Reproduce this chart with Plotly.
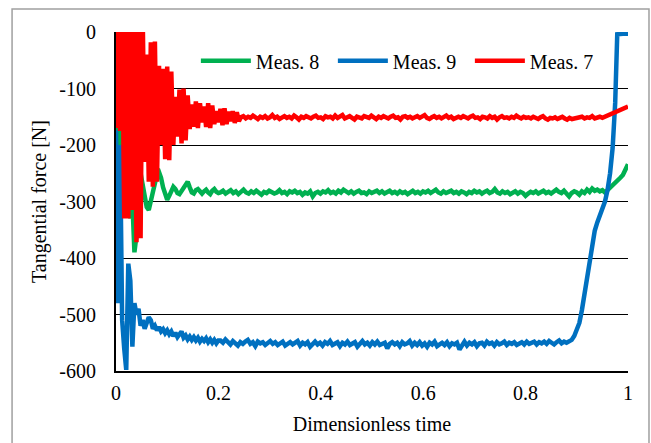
import numpy as np
import plotly.graph_objects as go

# ---------------- data ----------------
series_names = ["Meas. 8", "Meas. 9", "Meas. 7"]

# Meas. 8 (green)
green_start = [-60, -200, -150, -260, -230, -300, -260, -330, -300, -390,
               -360, -260, -250, -270, -295, -310, -315, -300, -280, -262,
               -252, -248, -258, -275, -290, -297, -290, -280, -274, -278,
               -285, -287, -282, -276, -270, -265, -275, -284, -286, -280,
               -278, -283, -286, -282, -279, -284, -287, -281, -278, -283,
               -285]
green_mid = [-284, -281, -286, -283, -280, -285, -282, -287, -283, -279,
             -284, -286, -282, -285, -281, -284, -288, -283, -285, -281,
             -283, -286, -284, -280, -285, -283, -287, -282, -284, -281,
             -285, -283, -288, -284, -286, -282, -291, -285, -283, -286,
             -282, -284, -280, -285, -283, -286, -281, -284, -279, -283,
             -285, -282, -286, -283, -281, -285, -284, -287, -282, -285,
             -283, -281, -285, -282, -286, -284, -281, -285, -283, -286,
             -282, -285, -283, -287, -284, -281, -285, -283, -286, -282,
             -284, -281, -285, -283, -279, -284, -286, -282, -285, -283,
             -281, -285, -283, -286, -282, -284, -287, -283, -285, -281,
             -284, -282, -286, -283, -281, -285, -283, -278, -284, -286,
             -282, -285, -283, -287, -284, -282, -286, -283, -285, -290,
             -286, -283, -285, -282, -286, -284, -281, -285, -283, -286,
             -282, -279, -283, -285, -281, -286, -291, -285, -282, -284]
green_end = [-288, -282, -285, -279, -283, -277, -281, -279, -282, -280,
             -284, -280, -276, -271, -266, -262, -258, -253, -245, -234]

# Meas. 9 (blue)
blue_start = [-174, -480, -200, -510, -560, -598, -410, -440, -557, -480,
              -500, -490, -520, -510, -525, -515, -505, -510, -525, -520,
              -528, -522, -530, -526, -533, -528, -535, -530, -538, -532,
              -540, -535, -530, -541, -537, -544, -539, -545, -540, -546,
              -541, -548, -543, -547, -542, -549, -544, -550, -545, -551,
              -546]
blue_mid = [-546, -550, -544, -549, -553, -547, -551, -555, -549, -552,
            -548, -545, -552, -549, -556, -548, -551, -549, -554, -550,
            -547, -552, -549, -554, -550, -548, -555, -551, -549, -553,
            -551, -547, -555, -550, -553, -549, -557, -551, -548, -553,
            -550, -555, -549, -552, -547, -554, -551, -549, -556, -550,
            -553, -548, -554, -551, -549, -557, -552, -547, -553, -550,
            -555, -549, -553, -548, -554, -551, -550, -560, -552, -549,
            -553, -550, -556, -549, -553, -551, -547, -555, -550, -554,
            -549, -555, -551, -557, -550, -553, -548, -556, -552, -550,
            -554, -549, -556, -551, -553, -550, -562, -553, -548, -555,
            -550, -553, -549, -556, -551, -550, -555, -548, -552, -550,
            -555, -549, -553, -551, -548, -554, -550, -552, -549, -554,
            -551, -549, -553, -548, -552, -550, -548, -553, -549, -551,
            -548, -552, -547, -550, -553, -549, -546, -551, -548, -550]
blue_end_t = [0.885, 0.89, 0.895, 0.9, 0.905, 0.91, 0.915, 0.92, 0.925, 0.93,
              0.935, 0.94, 0.945, 0.95, 0.955, 0.96, 0.965, 0.97, 0.975, 0.979,
              0.985, 0.99, 1.0]
blue_end = [-548, -545, -538, -527, -515, -492, -465, -438, -405, -375,
            -352, -337, -325, -315, -300, -280, -250, -205, -125, -4,
            -3, -3, -3]

# Meas. 7 (red)
red_start = [-170, 40, -175, 40, -330, 40, -330, 40, -315, 40,
             -372, 40, -365, 40, -230, -40, -265, -18, -274, -17,
             -265, -60, -200, -65, -225, -61, -227, -70, -200, -115,
             -185, -102, -197, -100, -192, -112, -172, -128, -168, -123,
             -170, -126, -160, -132, -168, -126, -170, -130, -163, -140,
             -160, -136, -165, -135, -163, -141, -158, -140, -161, -142,
             -158]
red_mid = [-151, -149, -153, -150, -152, -148, -151, -154, -150, -152,
           -149, -153, -151, -147, -152, -150, -154, -151, -149, -152,
           -150, -153, -148, -151, -155, -150, -152, -149, -151, -153,
           -150, -148, -152, -151, -154, -149, -151, -150, -153, -148,
           -152, -150, -147, -153, -151, -149, -152, -155, -150, -151,
           -153, -149, -151, -152, -148, -151, -154, -150, -152, -149,
           -151, -153, -150, -148, -152, -151, -155, -150, -149, -152,
           -150, -153, -151, -149, -152, -150, -147, -152, -154, -151,
           -149, -152, -150, -153, -151, -148, -152, -150, -154, -151,
           -150, -152, -149, -151, -153, -150, -148, -152, -151, -154,
           -150, -151, -153, -149, -152, -150, -155, -151, -149, -152,
           -151, -153, -150, -152, -148, -151, -153, -150, -152, -151,
           -153, -150, -152, -154, -151, -149, -153, -155, -152, -153,
           -151, -154, -152, -150, -153, -155, -152, -154, -153, -152]
red_end = [-152, -150, -153, -151, -152, -149, -153, -151, -150, -152,
           -150, -148, -146, -144, -142, -140, -138, -136, -134, -132]

x_tick_vals = [0, 0.2, 0.4, 0.6, 0.8, 1]
x_tick_labels = ["0", "0.2", "0.4", "0.6", "0.8", "1"]
y_tick_vals = [-600, -500, -400, -300, -200, -100, 0]
y_tick_labels = ["-600", "-500", "-400", "-300", "-200", "-100", "0"]

# sampling times of each segment
gx = np.concatenate([np.linspace(0, 0.2, len(green_start)),
                     np.linspace(0.204, 0.9, len(green_mid)),
                     np.linspace(0.905, 1.0, len(green_end))])
gy = green_start + green_mid + green_end
bx = np.concatenate([np.linspace(0, 0.2, len(blue_start)),
                     np.linspace(0.204, 0.88, len(blue_mid)),
                     np.array(blue_end_t)])
by = blue_start + blue_mid + blue_end
rx = np.concatenate([np.linspace(0, 0.24, len(red_start)),
                     np.linspace(0.244, 0.9, len(red_mid)),
                     np.linspace(0.905, 1.0, len(red_end))])
ry = red_start + red_mid + red_end

FONT = "Times New Roman, Liberation Serif, Tinos, serif"

fig = go.Figure()
fig.add_trace(go.Scatter(x=gx, y=gy, mode="lines", name=series_names[0],
                         line=dict(color="#00b050", width=4.5), legendrank=1))
fig.add_trace(go.Scatter(x=bx, y=by, mode="lines", name=series_names[1],
                         line=dict(color="#0070c0", width=4.5), legendrank=2))
fig.add_trace(go.Scatter(x=rx, y=ry, mode="lines", name=series_names[2],
                         line=dict(color="#ff0000", width=4.5), legendrank=3))

fig.update_layout(
    width=651, height=443,
    margin=dict(l=116, r=23, t=32, b=72, autoexpand=False),
    paper_bgcolor="white", plot_bgcolor="white",
    font=dict(family=FONT, size=20, color="black"),
    showlegend=True,
    legend=dict(orientation="h", x=0.156, xanchor="left", y=0.915, yanchor="middle",
                bgcolor="rgba(0,0,0,0)", font=dict(family=FONT, size=20, color="black"),
                itemwidth=50, entrywidth=72, entrywidthmode="pixels",
                tracegroupgap=0),
    xaxis=dict(range=[0, 1], tickvals=x_tick_vals, ticktext=x_tick_labels,
               showgrid=False, zeroline=False, showline=True, linecolor="black",
               linewidth=2, ticks="", ticklabelstandoff=3, automargin=False,
               title=dict(text="Dimensionless time", standoff=14,
                          font=dict(family=FONT, size=20))),
    yaxis=dict(range=[-600, 0], tickvals=y_tick_vals, ticktext=y_tick_labels,
               showgrid=True, gridcolor="black", gridwidth=1, zeroline=False,
               showline=True, linecolor="black", linewidth=2, ticks="",
               ticklabelstandoff=14, automargin=False,
               title=dict(text="Tangential force [N]", standoff=7,
                          font=dict(family=FONT, size=20))),
    shapes=[dict(type="rect", xref="paper", yref="paper",
                 x0=-0.203, x1=1.041, y0=-0.23, y1=1.068,
                 line=dict(color="#a0a0a0", width=1.5), fillcolor="rgba(0,0,0,0)",
                 layer="below")],
)

fig.write_html("out.html", config={"displayModeBar": False},
               post_script="document.body.style.margin='0px';")
